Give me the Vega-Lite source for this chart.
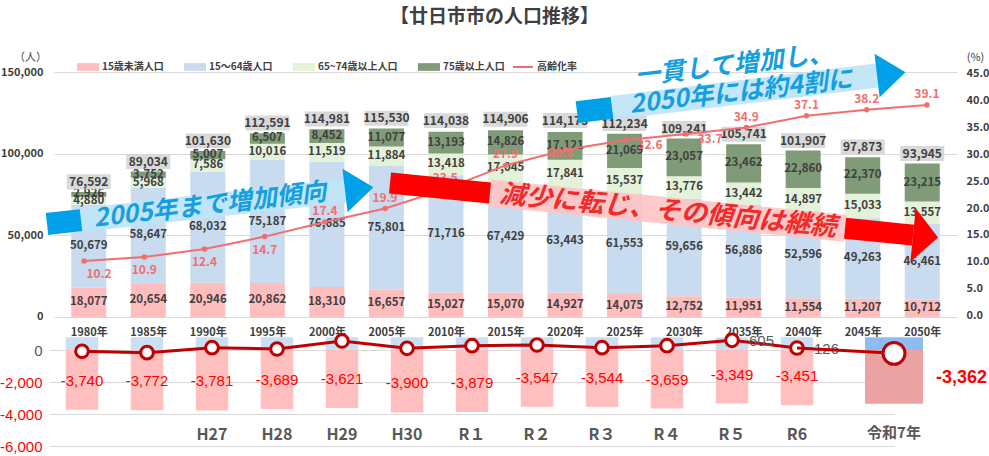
{
  "$schema": "https://vega.github.io/schema/vega-lite/v6.json",
  "width": 903,
  "height": 374,
  "autosize": {"type": "none"},
  "padding": {"left": 54, "top": 72, "right": 32, "bottom": 10},
  "background": "white",
  "config": {
    "font": "Noto Sans CJK JP",
    "view": {"stroke": null},
    "locale": {"number": {"decimal": ".", "thousands": ",", "grouping": [3], "currency": ["", ""], "minus": "-"}}
  },
  "title": {"text": "【廿日市市の人口推移】", "fontSize": 19, "fontWeight": "bold", "color": "#404040", "offset": 14, "dx": -11, "anchor": "middle"},
  "datasets": {
    "population": [
      {"year": 1980, "p1_under15": 18077, "p2_age15_64": 50679, "p3_age65_74": 4880, "p4_age75plus": 2926, "total": 76592, "aging_rate": 10.2},
      {"year": 1985, "p1_under15": 20654, "p2_age15_64": 58647, "p3_age65_74": 5968, "p4_age75plus": 3752, "total": 89034, "aging_rate": 10.9},
      {"year": 1990, "p1_under15": 20946, "p2_age15_64": 68032, "p3_age65_74": 7586, "p4_age75plus": 5007, "total": 101630, "aging_rate": 12.4},
      {"year": 1995, "p1_under15": 20862, "p2_age15_64": 75187, "p3_age65_74": 10016, "p4_age75plus": 6507, "total": 112591, "aging_rate": 14.7},
      {"year": 2000, "p1_under15": 18310, "p2_age15_64": 76685, "p3_age65_74": 11519, "p4_age75plus": 8452, "total": 114981, "aging_rate": 17.4},
      {"year": 2005, "p1_under15": 16657, "p2_age15_64": 75801, "p3_age65_74": 11884, "p4_age75plus": 11077, "total": 115530, "aging_rate": 19.9},
      {"year": 2010, "p1_under15": 15027, "p2_age15_64": 71716, "p3_age65_74": 13418, "p4_age75plus": 13193, "total": 114038, "aging_rate": 23.5},
      {"year": 2015, "p1_under15": 15070, "p2_age15_64": 67429, "p3_age65_74": 17045, "p4_age75plus": 14826, "total": 114906, "aging_rate": 27.9},
      {"year": 2020, "p1_under15": 14927, "p2_age15_64": 63443, "p3_age65_74": 17841, "p4_age75plus": 17121, "total": 114173, "aging_rate": 30.8},
      {"year": 2025, "p1_under15": 14075, "p2_age15_64": 61553, "p3_age65_74": 15537, "p4_age75plus": 21069, "total": 112234, "aging_rate": 32.6},
      {"year": 2030, "p1_under15": 12752, "p2_age15_64": 59656, "p3_age65_74": 13776, "p4_age75plus": 23057, "total": 109241, "aging_rate": 33.7},
      {"year": 2035, "p1_under15": 11951, "p2_age15_64": 56886, "p3_age65_74": 13442, "p4_age75plus": 23462, "total": 105741, "aging_rate": 34.9},
      {"year": 2040, "p1_under15": 11554, "p2_age15_64": 52596, "p3_age65_74": 14897, "p4_age75plus": 22860, "total": 101907, "aging_rate": 37.1},
      {"year": 2045, "p1_under15": 11207, "p2_age15_64": 49263, "p3_age65_74": 15033, "p4_age75plus": 22370, "total": 97873, "aging_rate": 38.2},
      {"year": 2050, "p1_under15": 10712, "p2_age15_64": 46461, "p3_age65_74": 13557, "p4_age75plus": 23215, "total": 93945, "aging_rate": 39.1}
    ],
    "change": [
      {"period": "H25", "natural": -3740, "social_visible": 800, "net": -81},
      {"period": "H26", "natural": -3772, "social_visible": 800, "net": -166},
      {"period": "H27", "natural": -3781, "social_visible": 800, "net": 145},
      {"period": "H28", "natural": -3689, "social_visible": 800, "net": 60},
      {"period": "H29", "natural": -3621, "social_visible": 800, "net": 560},
      {"period": "H30", "natural": -3900, "social_visible": 800, "net": 105},
      {"period": "R１", "natural": -3879, "social_visible": 800, "net": 270},
      {"period": "R２", "natural": -3547, "social_visible": 800, "net": 310},
      {"period": "R３", "natural": -3544, "social_visible": 800, "net": 145},
      {"period": "R４", "natural": -3659, "social_visible": 800, "net": 270},
      {"period": "R５", "natural": -3349, "social_visible": 800, "net": 605},
      {"period": "R6", "natural": -3451, "social_visible": 800, "net": 126},
      {"period": "令和7年", "natural": -3362, "social_visible": 800, "net": -210}
    ],
    "change_link": [
      {"from": "R6", "to": "令和7年", "net_from": 126, "net_to": -210}
    ],
    "banner_light": [
      {"x": 1979.74, "y": 59326, "x2": 2001.67, "y2": 77448},
      {"x": 2023.85, "y": 128019, "x2": 2045.86, "y2": 147856}
    ],
    "banner_dark": [
      {"x": 1976.92, "y": 56938, "x2": 1979.74, "y2": 59326},
      {"x": 2020.94, "y": 125387, "x2": 2023.85, "y2": 128019}
    ],
    "banner_pink": [
      {"x": 2013.71, "y": 75918, "x2": 2043.2, "y2": 54306}
    ],
    "banner_red": [
      {"x": 2005.41, "y": 82040, "x2": 2013.71, "y2": 75918},
      {"x": 2043.2, "y": 54306, "x2": 2048.85, "y2": 50142}
    ],
    "arrow_blue": [
      {"x": 2001.67, "y": 77448},
      {"x": 2045.86, "y": 147856}
    ],
    "arrow_red": [
      {"x": 2048.85, "y": 50142}
    ],
    "note_blue": [
      {"label": "2005年まで増加傾向", "x": 1990.46, "y": 68448},
      {"label": "一貫して増加し、", "x": 2033.98, "y": 154284},
      {"label": "2050年には約4割に", "x": 2034.56, "y": 137754}
    ],
    "note_red": [
      {"label": "減少に転じ、その傾向は継続", "x": 2028.5, "y": 64897}
    ]
  },
  "layer": [
    {
      "data": {"name": "population"},
      "encoding": {
        "x": {
          "field": "year", "type": "quantitative",
          "scale": {"domain": [1977.5, 2052.5], "nice": false, "zero": false},
          "axis": {
            "orient": "bottom", "offset": -127, "values": [1980, 1985, 1990, 1995, 2000, 2005, 2010, 2015, 2020, 2025, 2030, 2035, 2040, 2045, 2050],
            "labelExpr": "datum.value + '年'", "title": null, "domain": false, "ticks": false, "grid": false,
            "labelPadding": 7, "labelFontSize": 11, "labelFontWeight": "bold", "labelColor": "#404040", "labelFlush": false
          }
        }
      },
      "layer": [
        {
          "transform": [
            {"fold": ["p1_under15", "p2_age15_64", "p3_age65_74", "p4_age75plus"], "as": ["key", "value"]},
            {"stack": "value", "groupby": ["year"], "sort": [{"field": "key", "order": "ascending"}], "as": ["v0", "v1"]}
          ],
          "mark": {"type": "bar", "size": 35},
          "encoding": {
            "y": {
              "field": "v0", "type": "quantitative",
              "scale": {"domain": [-78980, 150000], "nice": false, "zero": false},
              "axis": {
                "orient": "left", "values": [0, 50000, 100000, 150000], "labelExpr": "format(datum.value, ',')", "grid": true, "gridColor": "#d9d9d9",
                "domain": false, "ticks": false, "labelPadding": 11, "labelFontSize": 11, "labelFontWeight": "bold", "labelColor": "#404040",
                "title": "（人）", "titleAngle": 0, "titleX": -24, "titleY": -15, "titleAlign": "center", "titleBaseline": "middle",
                "titleFontSize": 11, "titleFontWeight": "normal", "titleColor": "#404040"
              }
            },
            "y2": {"field": "v1"},
            "color": {
              "field": "key", "type": "nominal",
              "scale": {"domain": ["p1_under15", "p2_age15_64", "p3_age65_74", "p4_age75plus"], "range": ["#ffbdbd", "#c8dbef", "#e4f2d9", "#7f9b77"]},
              "legend": {
                "orient": "none", "legendX": 23, "legendY": -16, "direction": "horizontal", "title": null,
                "symbolType": "M-1,-0.35H1V0.35H-1Z", "symbolSize": 484, "symbolStrokeWidth": 0,
                "labelFontSize": 10, "labelFontWeight": "bold", "labelColor": "#404040", "columnPadding": 20, "labelOffset": 3,
                "labelExpr": "datum.value == 'p1_under15' ? '15歳未満人口' : datum.value == 'p2_age15_64' ? '15～64歳人口' : datum.value == 'p3_age65_74' ? '65~74歳以上人口' : '75歳以上人口'"
              }
            }
          }
        },
        {
          "transform": [
            {"fold": ["p1_under15", "p2_age15_64", "p3_age65_74", "p4_age75plus"], "as": ["key", "value"]},
            {"stack": "value", "groupby": ["year"], "sort": [{"field": "key", "order": "ascending"}], "as": ["v0", "v1"]},
            {"fold": ["v0", "v1"], "as": ["edge", "pos"]},
            {"aggregate": [{"op": "mean", "field": "pos", "as": "mid"}], "groupby": ["year", "key", "value"]}
          ],
          "mark": {"type": "text", "fontSize": 11.5, "fontWeight": "bold", "color": "#404040", "baseline": "middle"},
          "encoding": {
            "y": {"field": "mid", "type": "quantitative", "scale": {"domain": [-78980, 150000], "nice": false, "zero": false}},
            "text": {"field": "value", "type": "quantitative", "format": ","}
          }
        },
        {
          "mark": {"type": "point", "shape": "M-1,-0.8L1,-0.8L1,-0.12L-1,-0.12Z", "filled": true, "color": "#d9d9d9", "size": 1936, "opacity": 1},
          "encoding": {"y": {"field": "total", "type": "quantitative", "scale": {"domain": [-78980, 150000], "nice": false, "zero": false}}}
        },
        {
          "mark": {"type": "text", "dy": -10, "fontSize": 12, "fontWeight": "bold", "color": "#404040", "baseline": "middle"},
          "encoding": {
            "y": {"field": "total", "type": "quantitative", "scale": {"domain": [-78980, 150000], "nice": false, "zero": false}},
            "text": {"field": "total", "type": "quantitative", "format": ","}
          }
        }
      ]
    },
    {
      "data": {"name": "change"},
      "transform": [{"filter": "datum.period != '令和7年'"}],
      "encoding": {
        "x": {
          "field": "period", "type": "nominal", "sort": null,
          "scale": {"domain": ["H25", "H26", "H27", "H28", "H29", "H30", "R１", "R２", "R３", "R４", "R５", "R6", "令和7年"], "range": [-4.5, 840.5], "paddingInner": 0.5, "paddingOuter": 0.25},
          "axis": {
            "orient": "bottom", "offset": -22, "title": null, "domain": false, "ticks": false, "grid": false,
            "labelAngle": 0, "labelPadding": 2, "labelFontWeight": "bold", "labelColor": "#595959", "labelFontSize": 16,
            "labelExpr": "datum.value == 'H25' || datum.value == 'H26' || datum.value == '令和7年' ? '' : datum.value"
          }
        }
      },
      "layer": [
        {
          "mark": {"type": "bar", "color": "#ffbfbf"},
          "encoding": {
            "y": {
              "field": "natural", "type": "quantitative", "stack": null,
              "scale": {"domain": [-6000, 17375], "nice": false, "zero": false},
              "axis": {
                "orient": "left", "values": [0, -2000, -4000, -6000], "labelExpr": "format(datum.value, ',')", "title": null,
                "grid": true, "gridColor": "#d9d9d9", "domain": false, "ticks": false, "labelPadding": 12,
                "labelFont": "Liberation Sans", "labelFontSize": 15,
                "labelColor": {"condition": {"test": "datum.value < 0", "value": "#ff0000"}, "value": "#595959"}
              }
            }
          }
        },
        {
          "mark": {"type": "bar", "color": "#cadff3"},
          "encoding": {"y": {"field": "social_visible", "type": "quantitative", "stack": null, "scale": {"domain": [-6000, 17375], "nice": false, "zero": false}}}
        },
        {
          "mark": {"type": "text", "color": "#ff0000", "font": "Liberation Sans", "fontSize": 15, "dy": -29, "baseline": "middle"},
          "encoding": {
            "y": {"field": "natural", "type": "quantitative", "scale": {"domain": [-6000, 17375], "nice": false, "zero": false}},
            "text": {"field": "natural", "type": "quantitative", "format": ","}
          }
        },
        {
          "mark": {"type": "line", "color": "#c00000", "strokeWidth": 3},
          "encoding": {"y": {"field": "net", "type": "quantitative", "scale": {"domain": [-6000, 17375], "nice": false, "zero": false}}}
        },
        {
          "mark": {"type": "point", "shape": "circle", "filled": true, "fill": "white", "stroke": "#c00000", "strokeWidth": 3, "size": 160, "opacity": 1},
          "encoding": {"y": {"field": "net", "type": "quantitative", "scale": {"domain": [-6000, 17375], "nice": false, "zero": false}}}
        },
        {
          "transform": [{"filter": "datum.period == 'R５' || datum.period == 'R6'"}],
          "mark": {"type": "text", "align": "left", "dx": 17, "dy": 1, "color": "#595959", "font": "Liberation Sans", "fontSize": 15, "baseline": "middle"},
          "encoding": {
            "y": {"field": "net", "type": "quantitative", "scale": {"domain": [-6000, 17375], "nice": false, "zero": false}},
            "text": {"field": "net", "type": "quantitative"}
          }
        }
      ]
    },
    {
      "data": {"name": "change"},
      "transform": [{"filter": "datum.period == '令和7年'"}],
      "encoding": {
        "x": {
          "field": "period", "type": "nominal", "sort": null,
          "scale": {"domain": ["H25", "H26", "H27", "H28", "H29", "H30", "R１", "R２", "R３", "R４", "R５", "R6", "令和7年"], "range": [-4.5, 840.5], "paddingInner": 0.5, "paddingOuter": 0.25},
          "axis": null
        }
      },
      "layer": [
        {
          "mark": {"type": "bar", "color": "#8dbcf0", "width": 58, "xOffset": 32},
          "encoding": {"y": {"field": "social_visible", "type": "quantitative", "stack": null, "scale": {"domain": [-6000, 17375], "nice": false, "zero": false}, "axis": null}}
        },
        {
          "mark": {"type": "bar", "color": "#eaa2a2", "width": 58, "xOffset": 32},
          "encoding": {"y": {"field": "natural", "type": "quantitative", "stack": null, "scale": {"domain": [-6000, 17375], "nice": false, "zero": false}, "axis": null}}
        },
        {
          "mark": {"type": "text", "color": "#ff0000", "font": "Liberation Sans", "fontSize": 18, "fontWeight": "bold", "align": "left", "dx": 74, "dy": -26, "baseline": "middle"},
          "encoding": {
            "y": {"field": "natural", "type": "quantitative", "scale": {"domain": [-6000, 17375], "nice": false, "zero": false}, "axis": null},
            "text": {"field": "natural", "type": "quantitative", "format": ","}
          }
        },
        {
          "mark": {"type": "text", "color": "#595959", "fontSize": 15, "fontWeight": "bold", "xOffset": 32, "baseline": "middle"},
          "encoding": {
            "y": {"datum": -5190, "type": "quantitative", "scale": {"domain": [-6000, 17375], "nice": false, "zero": false}, "axis": null},
            "text": {"field": "period", "type": "nominal"}
          }
        },
        {
          "data": {"name": "change_link"},
          "mark": {"type": "rule", "color": "#c00000", "strokeWidth": 3, "x2Offset": 32},
          "encoding": {
            "x": {"field": "from", "type": "nominal", "sort": null, "axis": null},
            "x2": {"field": "to"},
            "y": {"field": "net_from", "type": "quantitative", "scale": {"domain": [-6000, 17375], "nice": false, "zero": false}, "axis": null},
            "y2": {"field": "net_to"}
          }
        },
        {
          "mark": {"type": "point", "shape": "circle", "filled": true, "fill": "white", "stroke": "#c00000", "strokeWidth": 3, "size": 480, "opacity": 1, "xOffset": 32},
          "encoding": {"y": {"field": "net", "type": "quantitative", "scale": {"domain": [-6000, 17375], "nice": false, "zero": false}, "axis": null}}
        }
      ]
    },
    {
      "data": {"name": "population"},
      "encoding": {
        "x": {"field": "year", "type": "quantitative", "scale": {"domain": [1977.5, 2052.5], "nice": false, "zero": false}, "axis": null},
        "y": {
          "field": "aging_rate", "type": "quantitative",
          "scale": {"domain": [-24.1, 45.2], "nice": false, "zero": false},
          "axis": {
            "orient": "right", "values": [0, 5, 10, 15, 20, 25, 30, 35, 40, 45], "format": ".1f", "grid": false, "domain": false, "ticks": false,
            "labelPadding": 9, "labelFontSize": 11, "labelFontWeight": "bold", "labelColor": "#404040",
            "title": "(%)", "titleAngle": 0, "titleX": 18, "titleY": -15, "titleAlign": "center", "titleBaseline": "middle",
            "titleFontSize": 11, "titleFontWeight": "normal", "titleColor": "#404040"
          }
        }
      },
      "layer": [
        {
          "mark": {"type": "line", "strokeWidth": 2, "point": {"filled": true, "size": 30}},
          "encoding": {
            "color": {
              "datum": "高齢化率", "scale": {"range": ["#f26e6e"]},
              "legend": {
                "orient": "none", "legendX": 458, "legendY": -16, "title": null, "symbolType": "M-1,0H1", "symbolSize": 400,
                "symbolStrokeWidth": 2, "symbolStrokeColor": "#f26e6e", "labelFontSize": 10, "labelFontWeight": "bold", "labelColor": "#404040", "labelOffset": 3
              }
            }
          }
        },
        {
          "transform": [{"filter": "datum.year == 1980"}],
          "mark": {"type": "text", "dx": 15, "dy": 13, "fontSize": 12, "fontWeight": "bold", "color": "#f26e6e", "baseline": "middle"},
          "encoding": {"text": {"field": "aging_rate", "type": "quantitative", "format": ".1f"}}
        },
        {
          "transform": [{"filter": "datum.year > 1980 && datum.year <= 1995"}],
          "mark": {"type": "text", "dy": 13, "fontSize": 12, "fontWeight": "bold", "color": "#f26e6e", "baseline": "middle"},
          "encoding": {"text": {"field": "aging_rate", "type": "quantitative", "format": ".1f"}}
        },
        {
          "transform": [{"filter": "datum.year == 2000 || datum.year == 2005 || datum.year == 2010 || datum.year == 2015 || datum.year >= 2035"}],
          "mark": {"type": "text", "dy": -11, "fontSize": 12, "fontWeight": "bold", "color": "#f26e6e", "baseline": "middle"},
          "encoding": {"text": {"field": "aging_rate", "type": "quantitative", "format": ".1f"}}
        },
        {
          "transform": [{"filter": "datum.year == 2025 || datum.year == 2030"}],
          "mark": {"type": "text", "dx": 24, "dy": 5, "fontSize": 12, "fontWeight": "bold", "color": "#f26e6e", "baseline": "middle"},
          "encoding": {"text": {"field": "aging_rate", "type": "quantitative", "format": ".1f"}}
        },
        {
          "transform": [{"filter": "datum.year == 2020"}],
          "mark": {"type": "text", "dx": -5, "dy": 3, "fontSize": 12, "fontWeight": "bold", "color": "#f26e6e", "baseline": "middle"},
          "encoding": {"text": {"field": "aging_rate", "type": "quantitative", "format": ".1f"}}
        }
      ]
    },
    {
      "encoding": {
        "x": {"field": "x", "type": "quantitative", "scale": {"domain": [1977.5, 2052.5], "nice": false, "zero": false}, "axis": null},
        "y": {"field": "y", "type": "quantitative", "scale": {"domain": [-78980, 150000], "nice": false, "zero": false}, "axis": null}
      },
      "layer": [
        {
          "data": {"name": "banner_light"},
          "mark": {"type": "rule", "color": "#bfe5f7", "strokeWidth": 24, "opacity": 0.92},
          "encoding": {"x2": {"field": "x2"}, "y2": {"field": "y2"}}
        },
        {
          "data": {"name": "banner_dark"},
          "mark": {"type": "rule", "color": "#00a0e9", "strokeWidth": 22},
          "encoding": {"x2": {"field": "x2"}, "y2": {"field": "y2"}}
        },
        {
          "data": {"name": "banner_pink"},
          "mark": {"type": "rule", "color": "#ffc4c4", "strokeWidth": 27, "opacity": 0.9},
          "encoding": {"x2": {"field": "x2"}, "y2": {"field": "y2"}}
        },
        {
          "data": {"name": "banner_red"},
          "mark": {"type": "rule", "color": "#ff0000", "strokeWidth": 21},
          "encoding": {"x2": {"field": "x2"}, "y2": {"field": "y2"}}
        },
        {
          "data": {"name": "arrow_blue"},
          "mark": {"type": "point", "shape": "M0,-1L1.3,0L0,1Z", "filled": true, "color": "#00a0e9", "opacity": 1, "size": 1936, "angle": -6.7},
          "encoding": {}
        },
        {
          "data": {"name": "arrow_red"},
          "mark": {"type": "point", "shape": "M0,-1L0.93,0L0,1Z", "filled": true, "color": "#ff0000", "opacity": 1, "size": 2916, "angle": 5.7},
          "encoding": {}
        },
        {
          "data": {"name": "note_blue"},
          "mark": {"type": "text", "fontWeight": "bold", "fontStyle": "italic", "fontSize": 25, "color": "#159fe0", "angle": -6.7, "baseline": "middle"},
          "encoding": {"text": {"field": "label", "type": "nominal"}}
        },
        {
          "data": {"name": "note_red"},
          "mark": {"type": "text", "fontWeight": "bold", "fontStyle": "italic", "fontSize": 26, "color": "#f22a2a", "angle": 5.7, "baseline": "middle"},
          "encoding": {"text": {"field": "label", "type": "nominal"}}
        }
      ]
    }
  ],
  "resolve": {"scale": {"x": "independent", "y": "independent", "color": "independent"}}
}
